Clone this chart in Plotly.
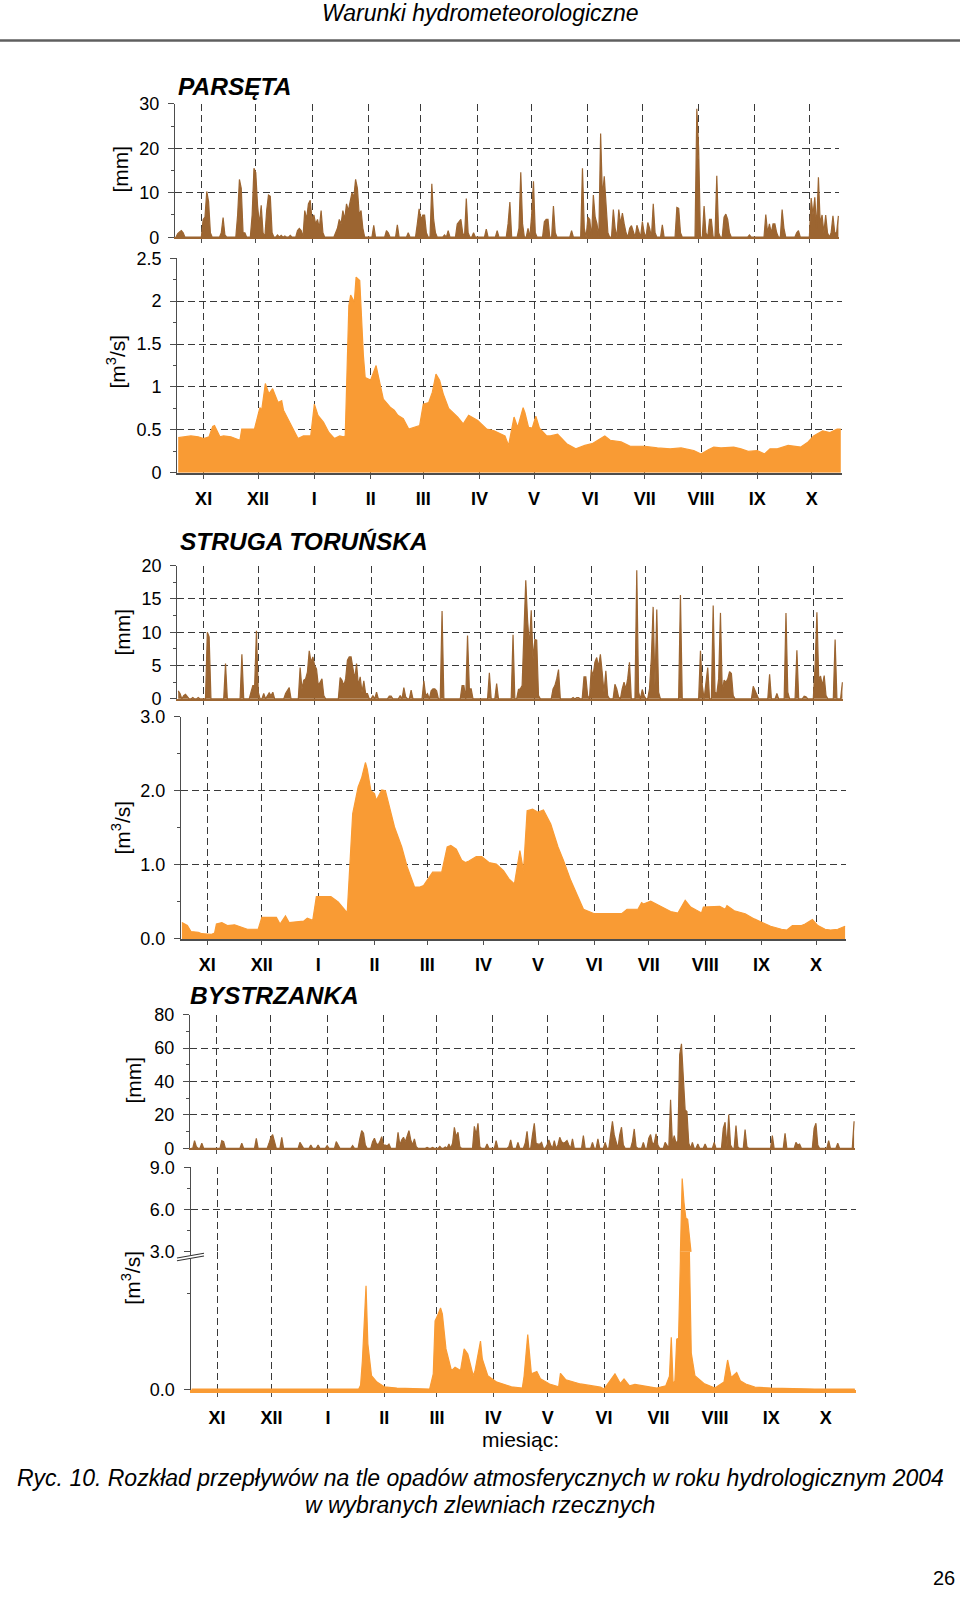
import numpy as np
import plotly.graph_objects as go

W, H = 960, 1601
FONT = "Liberation Sans, Arial, sans-serif"
BROWN = "#9C6531"
ORANGE = "#F99B34"
GRID = "#3a3a3a"
AXIS = "#4d4d4d"

# ---------------- data ----------------
MONTH_LABELS = ["XI", "XII", "I", "II", "III", "IV", "V", "VI", "VII", "VIII", "IX", "X"]
MONTH_DAYS = [30, 31, 31, 29, 31, 30, 31, 30, 31, 31, 30, 31]   # hydrological year 2004 (1 XI 2003 - 31 X 2004)
N_DAYS = sum(MONTH_DAYS)

# Parsęta - daily precipitation [mm] (day index from 1 XI 2003, value); other days = 0
pars_rain_day = [1, 2, 3, 4, 15, 16, 17, 18, 19, 25, 26, 27, 34, 35, 36, 37, 38, 42, 43, 44, 45, 46, 47, 48,
                 50, 51, 52, 53, 56, 58, 60, 63, 67, 68, 69, 71, 72, 73, 74, 75, 76, 77, 78, 79, 80, 81,
                 88, 89, 90, 91, 92, 93, 94, 95, 96, 97, 98, 99, 100, 101, 102, 103, 109, 116, 117, 122, 128,
                 133, 134, 135, 136, 137, 138, 141, 142, 143, 148, 150, 155, 156, 157, 158, 160, 161, 164,
                 171, 177, 183, 184, 189, 190, 191, 194, 196, 197, 198, 203, 204, 205, 208, 209, 218,
                 224, 225, 227, 228, 230, 231, 232, 234, 235, 236, 237, 238, 241, 242, 244, 245, 246, 247, 248,
                 250, 251, 252, 254, 255, 257, 258, 260, 261, 263, 264, 268, 276, 277, 278, 287, 288,
                 291, 292, 294, 295, 298, 299, 302, 303, 304, 305, 316, 325, 326, 327, 328, 329, 330, 331,
                 334, 335, 342, 343, 350, 351, 352, 353, 354, 355, 356, 357, 358, 359, 361, 362, 363, 364, 365]
pars_rain_mm = [0.8, 1.2, 1.5, 1.0, 4.0, 4.5, 10.3, 8.0, 1.0, 1.0, 4.4, 0.5, 5.0, 13.0, 11.0, 1.0, 1.0, 5.0, 15.5, 14.5, 7.0, 3.0, 7.2, 1.0,
                6.0, 9.5, 9.2, 1.0, 0.5, 0.4, 0.3, 0.4, 1.5, 2.0, 1.5, 6.0, 4.0, 7.5, 8.3, 4.0, 5.0, 3.0, 4.0, 2.0, 6.0, 1.0,
                1.0, 2.0, 4.0, 3.0, 6.0, 4.0, 7.5, 6.0, 8.0, 10.0, 9.0, 13.0, 11.0, 5.0, 6.0, 2.0, 2.7, 1.5, 1.0, 2.8, 1.0,
                3.0, 6.4, 4.0, 5.0, 5.0, 1.0, 12.0, 4.0, 1.0, 0.5, 1.5, 3.0, 3.5, 4.0, 1.0, 8.7, 1.0, 1.0,
                1.8, 1.5, 3.0, 7.9, 2.0, 14.6, 3.0, 2.0, 5.0, 12.6, 1.0, 3.5, 4.0, 4.0, 7.0, 1.0, 1.5,
                15.5, 2.0, 4.5, 4.0, 9.5, 4.5, 3.0, 23.3, 9.0, 13.7, 6.0, 1.0, 6.2, 2.0, 6.2, 3.0, 5.4, 3.0, 1.0,
                2.0, 2.6, 1.0, 2.7, 1.5, 3.5, 1.0, 3.3, 2.0, 7.5, 1.0, 2.8, 6.7, 6.5, 1.0, 28.9, 20.0,
                7.0, 1.0, 4.0, 4.0, 13.8, 1.0, 4.5, 5.2, 4.0, 1.0, 0.5, 5.1, 1.0, 3.0, 1.0, 3.0, 3.0, 1.0,
                6.2, 2.0, 1.0, 1.5, 8.8, 5.0, 9.0, 2.0, 13.5, 3.0, 5.0, 1.0, 5.0, 1.0, 1.0, 4.8, 1.0, 1.0, 4.8]

# Parsęta - discharge [m3/s] (day index, value)
pars_flow_day = [0, 7, 11, 14, 17, 19, 20, 23, 25, 29, 34, 35, 42, 44, 45, 46, 48, 50, 52, 55, 57, 58, 62, 66, 69,
                 73, 75, 77, 80, 83, 86, 89, 91, 92, 94, 95, 97, 98, 100, 101, 102, 103, 106, 109, 110, 113,
                 117, 119, 121, 124, 127, 133, 135, 138, 140, 142, 144, 146, 149, 154, 157, 160, 165, 170,
                 174, 180, 182, 185, 187, 190, 191, 193, 195, 197, 199, 203, 205, 209, 214, 219, 224, 228,
                 235, 238, 244, 249, 257, 264, 271, 277, 284, 288, 292, 295, 299, 306, 310, 314, 319, 323,
                 326, 330, 336, 343, 347, 350, 355, 359, 363, 365]
pars_flow_q = [0.41, 0.43, 0.42, 0.40, 0.42, 0.54, 0.55, 0.42, 0.43, 0.42, 0.38, 0.51, 0.51, 0.69, 0.76, 0.73, 1.04, 0.92, 0.98, 0.82, 0.84, 0.73, 0.57, 0.40, 0.43,
               0.43, 0.80, 0.67, 0.59, 0.47, 0.40, 0.43, 0.42, 0.43, 1.95, 2.07, 1.99, 2.28, 2.24, 1.74, 1.37, 1.11, 1.08, 1.25, 1.15, 0.86,
               0.76, 0.73, 0.67, 0.63, 0.51, 0.55, 0.80, 0.82, 0.94, 1.15, 1.08, 0.92, 0.75, 0.65, 0.57, 0.67, 0.61, 0.51,
               0.49, 0.43, 0.32, 0.65, 0.53, 0.76, 0.70, 0.53, 0.52, 0.66, 0.52, 0.43, 0.43, 0.45, 0.34, 0.28, 0.32, 0.34,
               0.43, 0.38, 0.36, 0.31, 0.31, 0.29, 0.28, 0.29, 0.26, 0.22, 0.27, 0.30, 0.29, 0.30, 0.28, 0.25, 0.26, 0.22,
               0.28, 0.28, 0.32, 0.30, 0.36, 0.43, 0.49, 0.47, 0.51, 0.51]

# Struga Toruńska - daily precipitation [mm]
str_rain_day = [0, 1, 3, 4, 5, 8, 11, 16, 17, 26, 35, 40, 41, 42, 43, 44, 47, 49, 50, 51, 52, 59, 60, 61,
                67, 68, 69, 70, 71, 72, 73, 74, 75, 76, 77, 78, 79, 80, 89, 90, 91, 92, 93, 94, 95, 96, 97, 98,
                99, 100, 101, 102, 103, 104, 107, 109, 116, 117, 122, 124, 125, 128, 135, 136, 137, 139, 140,
                141, 142, 145, 156, 157, 159, 160, 161, 171, 175, 184, 187, 188, 189, 190, 191, 192, 193, 194,
                195, 196, 197, 198, 206, 207, 208, 209, 217, 219, 220, 223, 224, 225, 227, 228, 229, 230, 231,
                232, 233, 234, 235, 236, 240, 241, 242, 244, 245, 246, 247, 248, 252, 253, 255, 256, 259, 260,
                261, 262, 263, 264, 276, 287, 288, 290, 291, 294, 295, 296, 297, 298, 299, 300, 301, 302, 303,
                304, 305, 316, 317, 318, 325, 329, 334, 335, 340, 344, 345, 350, 351, 352, 353, 354, 355, 356,
                361, 365]
str_rain_mm = [1.2, 0.8, 0.5, 0.7, 0.3, 0.2, 0.2, 10.0, 9.3, 5.3, 6.7, 1.0, 2.0, 2.0, 10.2, 1.0, 0.8, 0.5, 0.9, 0.5, 1.0, 0.8, 1.2, 1.7,
               4.7, 1.5, 2.8, 3.0, 4.0, 7.2, 5.5, 6.3, 5.0, 4.5, 2.0, 2.5, 3.0, 0.5, 3.2, 2.8, 2.0, 3.0, 5.8, 6.3, 6.3, 4.8, 3.0, 5.3,
               2.0, 3.3, 1.0, 2.7, 0.8, 0.8, 0.5, 1.0, 0.4, 0.4, 0.5, 1.7, 0.3, 1.3, 2.7, 0.5, 0.8, 1.2, 1.5,
               1.5, 1.2, 13.2, 2.0, 2.0, 9.5, 1.5, 1.5, 3.9, 2.3, 9.6, 1.4, 1.5, 2.0, 10.0, 17.8, 11.8, 8.0, 13.3,
               6.0, 8.9, 8.8, 0.5, 1.5, 2.0, 3.0, 4.4, 0.2, 0.2, 0.2, 3.3, 3.3, 0.5, 4.4, 3.5, 5.5, 6.2, 4.8,
               6.7, 4.0, 1.0, 4.2, 0.5, 2.2, 1.5, 0.3, 1.5, 2.5, 1.5, 3.0, 5.5, 19.3, 1.0, 1.4, 0.5, 1.5, 6.0,
               13.8, 2.0, 13.4, 1.0, 15.6, 7.2, 2.0, 2.0, 4.7, 14.0, 1.0, 0.8, 3.0, 12.9, 1.0, 2.8, 2.5, 3.0, 4.1,
               3.8, 0.5, 1.9, 1.3, 0.5, 3.7, 0.8, 12.9, 1.0, 7.3, 0.4, 0.3, 5.0, 13.0, 3.0, 3.4, 2.0, 3.5, 0.5,
               8.9, 2.5]

# Struga Toruńska - discharge [m3/s]
str_flow_day = [0, 3, 5, 9, 11, 16, 18, 19, 22, 25, 29, 36, 42, 44, 52, 54, 57, 59, 67, 69, 72, 74, 82, 86, 90, 91,
                94, 97, 99, 101, 102, 104, 106, 107, 110, 112, 117, 121, 124, 128, 131, 133, 138, 143, 146, 148,
                151, 154, 156, 158, 162, 165, 169, 173, 177, 180, 183, 186, 188, 190, 193, 196, 199, 201, 203,
                207, 210, 214, 218, 221, 227, 234, 242, 245, 251, 253, 254, 258, 264, 269, 273, 275, 277, 280,
                286, 287, 293, 296, 299, 300, 304, 310, 315, 320, 324, 330, 333, 336, 341, 343, 347, 350, 354,
                357, 361, 365]
str_flow_q = [0.22, 0.18, 0.10, 0.09, 0.07, 0.06, 0.08, 0.20, 0.22, 0.18, 0.19, 0.13, 0.13, 0.29, 0.29, 0.20, 0.31, 0.22, 0.24, 0.28, 0.25, 0.57, 0.57, 0.50, 0.38, 0.36,
              1.69, 2.05, 2.18, 2.38, 2.29, 2.00, 1.96, 1.87, 2.01, 2.00, 1.51, 1.24, 0.97, 0.70, 0.70, 0.72, 0.90, 0.90, 1.24, 1.26,
              1.21, 1.06, 1.03, 1.05, 1.11, 1.11, 1.03, 1.01, 0.92, 0.81, 0.74, 1.19, 0.92, 1.73, 1.75, 1.71, 1.74, 1.64, 1.55,
              1.24, 1.06, 0.79, 0.56, 0.40, 0.34, 0.34, 0.34, 0.40, 0.40, 0.49, 0.47, 0.51, 0.43, 0.37, 0.35, 0.43, 0.52, 0.43,
              0.35, 0.43, 0.43, 0.44, 0.40, 0.45, 0.38, 0.34, 0.27, 0.22, 0.17, 0.13, 0.12, 0.18, 0.18, 0.20, 0.26, 0.18, 0.13,
              0.12, 0.13, 0.17]

# Bystrzanka - daily precipitation [mm]
bys_rain_day = [2, 3, 6, 17, 18, 28, 36, 43, 44, 45, 46, 50, 60, 61, 66, 70, 75, 80, 81, 89, 93, 94, 95, 96,
                100, 101, 102, 103, 104, 105, 106, 107, 108, 109, 114, 115, 116, 117, 118, 119, 120, 121, 122,
                123, 124, 130, 133, 137, 140, 142, 144, 145, 146, 147, 148, 156, 157, 158, 159, 163, 168, 175,
                176, 180, 184, 185, 188, 189, 190, 191, 192, 193, 196, 197, 198, 200, 202, 203, 204, 205, 206,
                207, 208, 210, 216, 221, 224, 228, 231, 232, 233, 234, 236, 237, 238, 243, 244, 245, 249, 252,
                253, 254, 255, 256, 257, 261, 262, 264, 265, 266, 267, 268, 269, 270, 271, 272, 273, 274, 276,
                279, 283, 288, 293, 294, 295, 296, 297, 300, 301, 305, 306, 320, 327, 333, 334, 335, 343, 344,
                345, 351, 356, 365]
bys_rain_mm = [4.6, 1.0, 3.0, 4.6, 4.0, 3.0, 6.0, 3.0, 6.6, 8.2, 3.0, 6.6, 3.6, 2.0, 2.0, 2.0, 1.6, 4.0, 2.0, 1.6, 6.0, 10.6, 9.0, 2.0,
               4.0, 6.0, 3.0, 2.0, 4.0, 7.0, 2.0, 2.0, 1.5, 2.6, 9.6, 2.0, 5.0, 6.6, 4.0, 8.0, 10.6, 5.0, 2.0,
               5.6, 1.0, 0.6, 0.5, 1.2, 0.8, 2.6, 3.0, 12.6, 7.0, 9.6, 1.0, 13.2, 8.0, 15.0, 1.0, 2.6, 4.6, 1.0,
               5.0, 3.6, 3.0, 10.2, 8.0, 15.0, 3.0, 2.5, 2.5, 3.6, 2.0, 5.0, 2.0, 4.6, 2.0, 6.6, 4.0, 3.0, 3.6,
               4.6, 2.0, 5.6, 7.6, 3.6, 5.6, 3.6, 10.0, 16.2, 8.0, 3.0, 8.0, 12.6, 2.0, 4.0, 11.6, 1.0, 3.6, 6.0,
               8.2, 3.0, 3.0, 8.6, 2.0, 3.6, 2.0, 29.0, 3.0, 7.6, 3.0, 4.6, 56.0, 62.5, 40.0, 23.0, 22.0, 3.0, 3.6,
               2.6, 2.6, 3.6, 12.0, 15.6, 1.0, 20.2, 2.0, 13.6, 1.0, 11.2, 1.0, 7.6, 9.0, 3.6, 2.0, 2.6, 12.0, 15.0,
               2.0, 4.6, 3.0, 16.2]

# Bystrzanka - discharge [m3/s]
bys_flow_day = [0, 92, 93, 94, 96, 97, 99, 102, 106, 113, 131, 133, 134, 135, 137, 138, 140, 143, 145, 146, 148,
                150, 152, 155, 156, 159, 160, 163, 168, 176, 182, 183, 185, 187, 190, 192, 197, 202, 203, 206,
                209, 214, 225, 227, 233, 236, 238, 241, 244, 251, 256, 261, 263, 264, 265, 266, 267, 268, 269,
                270, 271, 272, 273, 274, 275, 277, 282, 288, 293, 295, 297, 300, 302, 305, 310, 319, 343, 365]
bys_flow_q = [0.02, 0.02, 0.10, 0.64, 2.26, 1.00, 0.31, 0.17, 0.07, 0.04, 0.02, 0.35, 1.50, 1.58, 1.78, 1.65, 0.89, 0.42, 0.49, 0.46, 0.42,
              0.89, 0.78, 0.31, 0.42, 1.06, 0.67, 0.31, 0.17, 0.07, 0.04, 0.30, 1.20, 0.35, 0.40, 0.24, 0.13, 0.07, 0.36, 0.22,
              0.18, 0.13, 0.06, 0.02, 0.35, 0.14, 0.24, 0.09, 0.12, 0.07, 0.04, 0.09, 0.30, 1.14, 0.13, 0.20, 1.10, 1.12, 2.80,
              8.20, 6.50, 5.40, 5.30, 2.90, 0.80, 0.31, 0.14, 0.04, 0.17, 0.65, 0.27, 0.38, 0.20, 0.13, 0.06, 0.04, 0.02, 0.02]

# ---------------- helpers ----------------
def daily(days, vals):
    s = np.zeros(N_DAYS)
    s[np.array(days)] = vals
    return s

days_all = np.arange(N_DAYS)
month_start = np.concatenate([[0], np.cumsum(MONTH_DAYS)[:-1]])
mid_month = (month_start + 14).tolist()

# the captured page is mapped to the picture with a small vertical offset/scale;
# layout positions below are given in picture pixels and converted here
V_OFF, V_SCALE = 9.5, 0.9874


def page_y(y):
    return (y - V_OFF) / V_SCALE


def xd(x0, x1):
    return [x0 / W, x1 / W]


def yd(yt, yb):
    return [1 - page_y(yb) / H, 1 - page_y(yt) / H]


def px(x):
    return x / W


def py(y):
    return 1 - page_y(y) / H


fig = go.Figure()
layout = {}
dash = "7px,4px"
TICK_SIZE = 18

panels = [
    dict(k=1, x=(175, 839.3), y=(103.3, 236.7), rng=[0, 30], tv=[0, 10, 20, 30], fmt="d", minor=dict(dtick=5),
         labels=False, xl=(BROWN, 2), xticks=True),
    dict(k=2, x=(177.3, 841.7), y=(257.7, 472.3), rng=[0, 2.5], tv=[0, 0.5, 1, 1.5, 2, 2.5], fmt="", minor=dict(dtick=0.25),
         labels=True, xl=(AXIS, 1.5), xticks=True),
    dict(k=3, x=(177.3, 843.3), y=(565, 698.3), rng=[0, 20], tv=[0, 5, 10, 15, 20], fmt="d", minor=dict(dtick=2.5),
         labels=False, xl=(BROWN, 2), xticks=True),
    dict(k=4, x=(181, 846), y=(716, 938.3), rng=[0, 3], tv=[0, 1, 2, 3], fmt=".1f", minor=dict(dtick=0.5),
         labels=True, xl=(AXIS, 1.5), xticks=True),
    dict(k=5, x=(190, 855), y=(1014, 1147.7), rng=[0, 80], tv=[0, 20, 40, 60, 80], fmt="d", minor=dict(dtick=10),
         labels=False, xl=(BROWN, 2), xticks=True),
    dict(k=6, x=(190.7, 855.7), y=(1166.7, 1251), rng=[3, 9], tv=[3, 6, 9], fmt=".1f", minor=dict(tick0=3, dtick=1.5),
         labels=False, xl=None, xticks=False),
    dict(k=7, x=(190.7, 855.7), y=(1251, 1389.3), rng=[0, 3], tv=[0], fmt=".1f", minor=dict(tickvals=[2.1]),
         labels=True, xl=(ORANGE, 3), xticks=True),
]

for p in panels:
    s = "" if p["k"] == 1 else str(p["k"])
    xa = dict(
        domain=xd(*p["x"]), anchor="y" + s, range=[-0.5, N_DAYS - 0.5],
        tickmode="array", tickvals=mid_month,
        showticklabels=p["labels"],
        ticks="outside" if p["xticks"] else "", ticklen=4, tickwidth=1.3, tickcolor=AXIS,
        showgrid=True, gridcolor=GRID, gridwidth=1.2, griddash=dash,
        zeroline=False, fixedrange=True,
        tickfont=dict(family=FONT, size=18, color="black", weight="bold"),
        ticklabelstandoff=5,
    )
    if p["labels"]:
        xa["ticktext"] = MONTH_LABELS
    if p["xl"]:
        xa.update(showline=True, linecolor=p["xl"][0], linewidth=p["xl"][1])
    else:
        xa.update(showline=False)
    ya = dict(
        domain=yd(*p["y"]), anchor="x" + s, range=p["rng"],
        tickmode="array", tickvals=p["tv"], tickformat=p["fmt"],
        ticks="outside", ticklen=6, tickwidth=1.3, tickcolor=AXIS,
        showline=True, linecolor=AXIS, linewidth=1.4,
        showgrid=p["k"] != 7, gridcolor=GRID, gridwidth=1.2, griddash=dash,
        zeroline=False, fixedrange=True,
        minor=dict(ticks="outside", ticklen=3, tickcolor=AXIS, tickwidth=1.2, showgrid=False, **p["minor"]),
        tickfont=dict(family=FONT, size=TICK_SIZE, color="black"),
        ticklabelstandoff=5,
    )
    layout["xaxis" + s] = xa
    layout["yaxis" + s] = ya


def area(x, y, color, k, lw=1.2):
    s = "" if k == 1 else str(k)
    fig.add_trace(go.Scatter(
        x=x, y=y, mode="lines", fill="tozeroy", fillcolor=color,
        line=dict(color=color, width=lw), xaxis="x" + s, yaxis="y" + s,
        hoverinfo="skip", showlegend=False))


area(days_all, daily(pars_rain_day, pars_rain_mm), BROWN, 1)
area(pars_flow_day, pars_flow_q, ORANGE, 2)
area(days_all, daily(str_rain_day, str_rain_mm), BROWN, 3)
area(str_flow_day, str_flow_q, ORANGE, 4)
area(days_all, daily(bys_rain_day, bys_rain_mm), BROWN, 5)
area(bys_flow_day, bys_flow_q, ORANGE, 6)   # upper part of broken axis
area(bys_flow_day, bys_flow_q, ORANGE, 7)   # lower part of broken axis

# ---------------- texts ----------------
ann = []


def text(t, x, y, size, xanchor="center", angle=0, weight="normal", style="normal", yanchor="middle"):
    ann.append(dict(text=t, x=px(x), y=py(y), xref="paper", yref="paper", showarrow=False,
                    xanchor=xanchor, yanchor=yanchor, textangle=angle,
                    font=dict(family=FONT, size=size, color="black", weight=weight, style=style)))


text("Warunki hydrometeorologiczne", 480, 12, 23, style="italic")
text("PARSĘTA", 176, 86, 24.5, xanchor="left", weight="bold", style="italic")
text("STRUGA TORUŃSKA", 178, 541, 24.5, xanchor="left", weight="bold", style="italic")
text("BYSTRZANKA", 188, 995, 24.5, xanchor="left", weight="bold", style="italic")

text("[mm]", 121, 169, 21, angle=-90)
text("[m<sup>3</sup>/s]", 116, 361, 21, angle=-90)
text("[mm]", 123, 631, 21, angle=-90)
text("[m<sup>3</sup>/s]", 121, 827, 21, angle=-90)
text("[mm]", 134, 1080, 21, angle=-90)
text("[m<sup>3</sup>/s]", 131, 1277, 21, angle=-90)

text("miesiąc:", 520, 1439, 21)
text("Ryc. 10. Rozkład przepływów na tle opadów atmosferycznych w roku hydrologicznym 2004", 480, 1477, 23, style="italic")
text("w wybranych zlewniach rzecznych", 480, 1504, 23, style="italic")
# page number sits at the very bottom edge of the page
ann.append(dict(text="26", x=px(957), y=0, xref="paper", yref="paper", showarrow=False,
                xanchor="right", yanchor="bottom",
                font=dict(family=FONT, size=20, color="black")))

shapes = [
    dict(type="line", xref="paper", yref="paper", x0=0, x1=1, y0=py(40), y1=py(40),
         line=dict(color="#5f5f5f", width=2.5)),
    # axis-break marks on the Bystrzanka discharge axis
    dict(type="line", xref="paper", yref="paper", x0=px(177), y0=py(1258.7), x1=px(204), y1=py(1254),
         line=dict(color="white", width=3)),
    dict(type="line", xref="paper", yref="paper", x0=px(177), y0=py(1257.3), x1=px(204), y1=py(1252.6),
         line=dict(color="#333333", width=1.1)),
    dict(type="line", xref="paper", yref="paper", x0=px(177), y0=py(1260.1), x1=px(204), y1=py(1255.4),
         line=dict(color="#333333", width=1.1)),
]

fig.update_layout(
    width=W, height=H, autosize=False,
    margin=dict(l=0, r=0, t=0, b=0),
    paper_bgcolor="white", plot_bgcolor="rgba(0,0,0,0)",
    showlegend=False, annotations=ann, shapes=shapes,
    font=dict(family=FONT, color="black"),
    **layout,
)

fig.write_html(
    "out.html",
    config={"displayModeBar": False},
    post_script="document.body.style.margin='0';document.body.style.padding='0';"
                "document.documentElement.style.overflow='hidden';",
)
